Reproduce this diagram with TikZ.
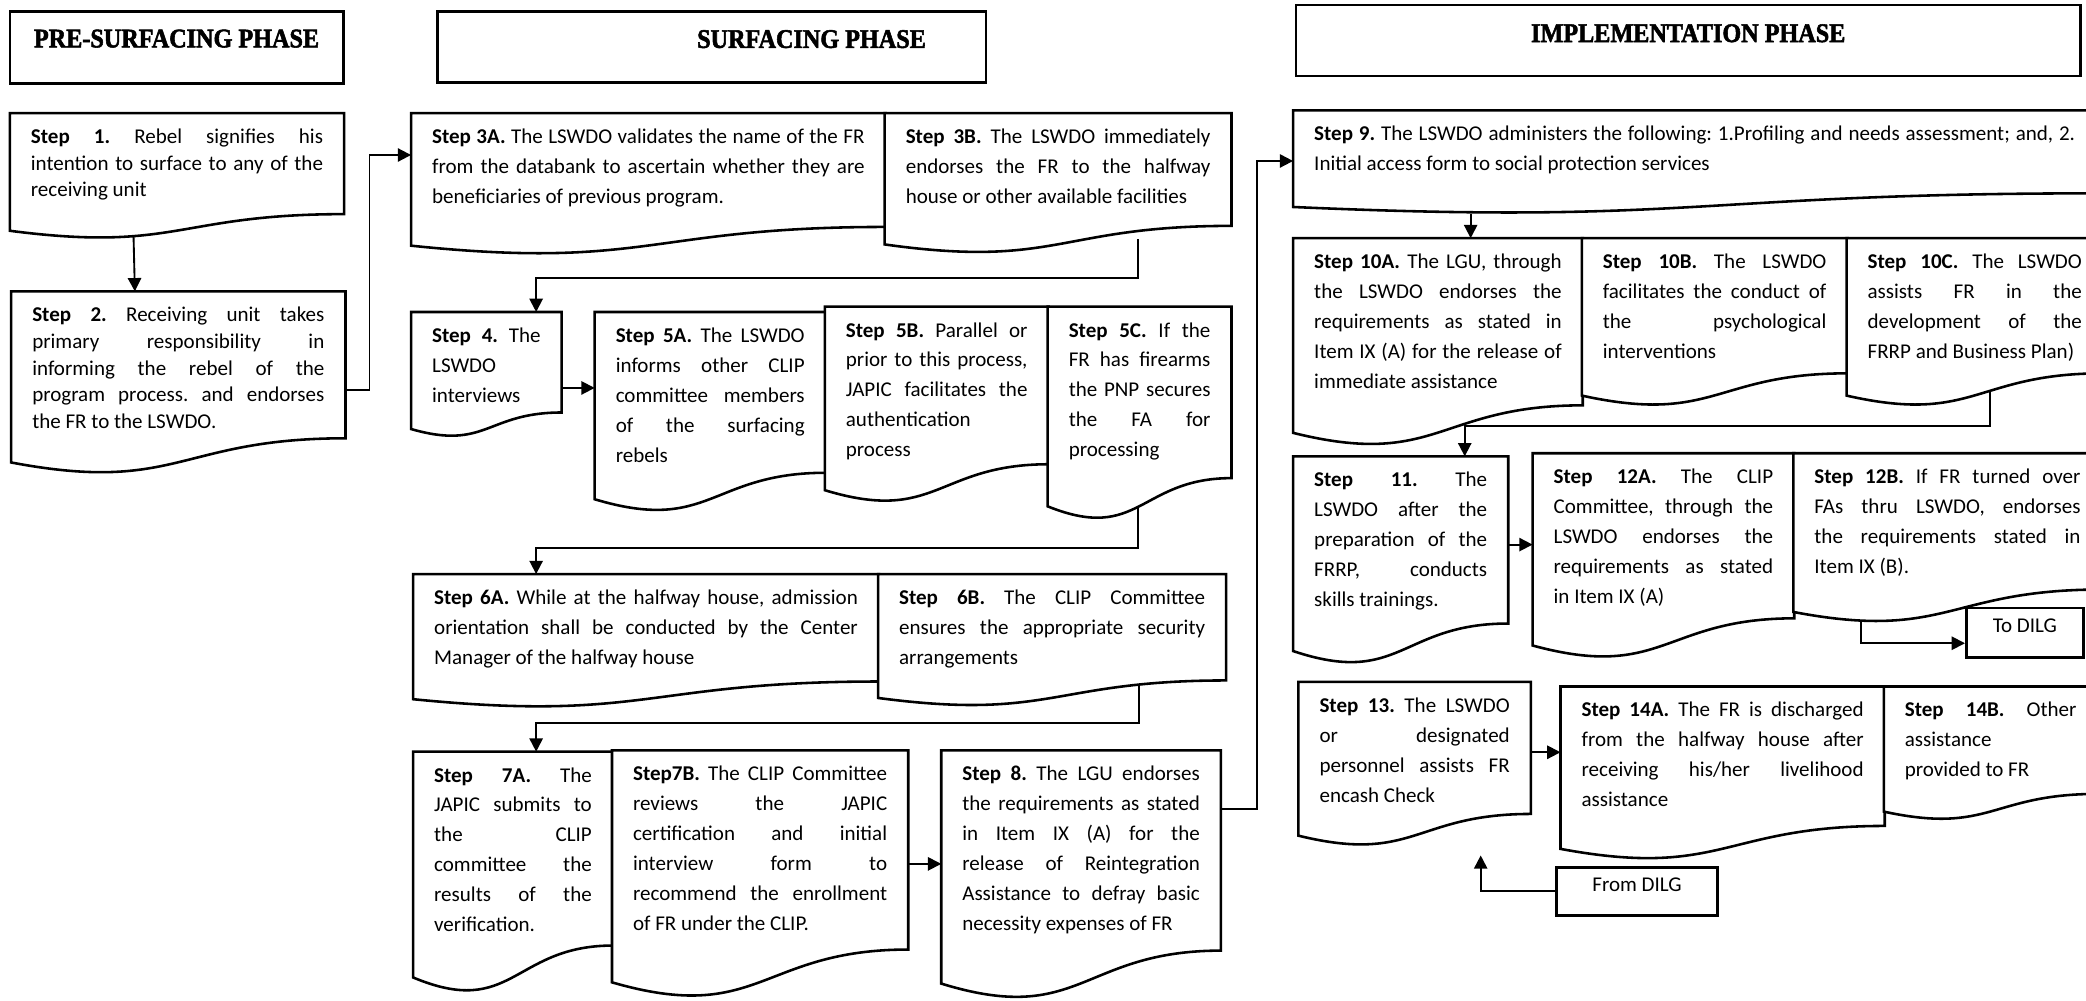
\documentclass[tikz,border=0pt]{standalone}
\usepackage{fontspec}
\setmainfont{Carlito}
\newfontfamily\phasefont{Liberation Serif}[FakeStretch=0.9, BoldFeatures={FakeBold=2}]
\usetikzlibrary{arrows.meta, calc, backgrounds, fit}
\definecolor{linecol}{RGB}{0,0,0}
\definecolor{boxfill}{RGB}{255,255,255}
\newcommand{\steptext}{\fontsize{9}{12.8}\selectfont\frenchspacing
  \hyphenpenalty=10000 \tolerance=10000 \hbadness=10000 }

\begin{document}
\begin{tikzpicture}[
    x=0.02cm, y=-0.02cm,
    arr/.style={-{Triangle[length=0.2cm, width=0.2cm]}, line width=0.8pt, draw=linecol},
    phasebox/.style={draw=linecol, line width=1.1pt, inner sep=0pt},
    phasetext/.style={font=\phasefont\bfseries\fontsize{11.5}{13}\selectfont},
    stepbox/.style 2 args={anchor=north west, inner xsep=0.31cm, inner ysep=0pt,
                  text width={#1*0.02cm-0.62cm}, text height=0.45cm,
                  text depth={#2*0.02cm-0.45cm}, align=justify, font=\steptext},
    pre/.style={font=\steptext\fontsize{9}{11.4}\selectfont},
    docline/.style={draw=linecol, fill=boxfill, line width=1.1pt},
    tagbox/.style={draw=linecol, line width=1.1pt, inner sep=0pt, font=\steptext},
]

\path[use as bounding box] (0,0) rectangle (1568,752);

% ════════════════════════════════════════════════════════
% 0. PHASE HEADERS
% ════════════════════════════════════════════════════════
\node[phasebox, fit={(7.4,8.8) (258,62.6)}] (hpre) {};
\node[phasetext] (tpre) at (132.7,29) {PRE-SURFACING PHASE};

\node[phasebox, fit={(329,8.8) (741,62)}] (hsurf) {};
\node[phasetext] (tsurf) at (610,29.4) {SURFACING PHASE};

\node[phasebox, fit={(974,3.8) (1564,57)}] (himpl) {};
\node[phasetext] (timpl) at (1269,25) {IMPLEMENTATION PHASE};

% ════════════════════════════════════════════════════════
% 1. PRE-SURFACING STEPS
% ════════════════════════════════════════════════════════
\node[stepbox={250.6}{94}, pre] (s1) at (7.4,85)
    {\textbf{Step 1.} Rebel signifies his\linebreak
     intention to surface to any of the\linebreak receiving unit};
\node[stepbox={250.6}{137}, pre] (s2) at (8.4,219)
    {\textbf{Step 2.} Receiving unit takes\linebreak
     primary responsibility in\linebreak
     informing the rebel of the\linebreak
     program process. and endorses\linebreak the FR to the LSWDO.};

% ════════════════════════════════════════════════════════
% 2. SURFACING STEPS
% ════════════════════════════════════════════════════════
\node[stepbox={356}{106}] (s3a) at (309,85)
    {\textbf{Step 3A.} The LSWDO validates the name of the FR\linebreak
     from the databank to ascertain whether they are\linebreak
     beneficiaries of previous program.};
\node[stepbox={260}{105}] (s3b) at (665,85)
    {\textbf{Step 3B.} The LSWDO immediately\linebreak
     endorses the FR to the halfway\linebreak
     house or other available facilities};

\node[stepbox={112.5}{93.5}] (s4) at (309,234.5)
    {\textbf{Step 4.} The\linebreak LSWDO\newline interviews};
\node[stepbox={173}{150}] (s5a) at (447,234.5)
    {\textbf{Step 5A.} The LSWDO\linebreak informs other CLIP\linebreak
     committee members\linebreak of the surfacing\linebreak rebels};
\node[stepbox={167.5}{147}] (s5b) at (620,230.5)
    {\textbf{Step 5B.} Parallel or\linebreak prior to this process,\linebreak
     JAPIC facilitates the\linebreak authentication\newline process};
\node[stepbox={137.5}{160}] (s5c) at (787.5,230.5)
    {\textbf{Step 5C.} If the\linebreak FR has firearms\linebreak
     the PNP secures\linebreak the FA for\linebreak processing};

\node[stepbox={349.5}{100}] (s6a) at (310.5,431.5)
    {\textbf{Step 6A.} While at the halfway house, admission\linebreak
     orientation shall be conducted by the Center\linebreak
     Manager of the halfway house};
\node[stepbox={261}{99}] (s6b) at (660,431.5)
    {\textbf{Step 6B.} The CLIP Committee\linebreak
     ensures the appropriate security\linebreak arrangements};

\node[stepbox={149.5}{181}] (s7a) at (310.5,565)
    {\textbf{Step 7A.} The\linebreak JAPIC submits to\linebreak the CLIP\linebreak
     committee the\linebreak results of the\linebreak verification.};
\node[stepbox={222}{186}] (s7b) at (460,564)
    {\textbf{Step7B.} The CLIP Committee\linebreak reviews the JAPIC\linebreak
     certification and initial\linebreak interview form to\linebreak
     recommend the enrollment\linebreak of FR under the CLIP.};
\node[stepbox={209.5}{187}] (s8) at (707.5,564)
    {\textbf{Step 8.} The LGU endorses\linebreak the requirements as stated\linebreak
     in Item IX (A) for the\linebreak release of Reintegration\linebreak
     Assistance to defray basic\linebreak necessity expenses of FR};

% ════════════════════════════════════════════════════════
% 3. IMPLEMENTATION STEPS
% ════════════════════════════════════════════════════════
\node[stepbox={603}{77}] (s9) at (972,83)
    {\textbf{Step 9.} The LSWDO administers the following: 1.Profiling and
     needs assessment; and, 2.\linebreak
     Initial access form to social protection services};

\node[stepbox={217}{156}] (s10a) at (972,179)
    {\textbf{Step 10A.} The LGU, through\linebreak the LSWDO endorses the\linebreak
     requirements as stated in\linebreak Item IX (A) for the release of\linebreak
     immediate assistance};
\node[stepbox={199}{126}] (s10b) at (1189,179)
    {\textbf{Step 10B.} The LSWDO\linebreak facilitates the conduct of\linebreak
     the psychological\linebreak interventions};
\node[stepbox={192}{126}] (s10c) at (1388,179)
    {\textbf{Step 10C.} The LSWDO\linebreak assists FR in the\linebreak
     development of the\linebreak FRRP and Business Plan)};

\node[stepbox={161}{156}] (s11) at (972,343)
    {\textbf{Step 11.} The\linebreak LSWDO after the\linebreak
     preparation of the\linebreak FRRP, conducts\linebreak skills trainings.};
\node[stepbox={196}{154}] (s12a) at (1152,340.7)
    {\textbf{Step 12A.} The CLIP\linebreak Committee, through the\linebreak
     LSWDO endorses the\linebreak requirements as stated\linebreak in Item IX (A)};
\node[stepbox={231}{127}] (s12b) at (1348,340.7)
    {\textbf{Step 12B.} If FR turned over\linebreak FAs thru LSWDO, endorses\linebreak
     the requirements stated in\linebreak Item IX (B).};
\node[tagbox, fit={(1478,457) (1566,494)}] (todilg) {To DILG};

\node[stepbox={174}{123}] (s13) at (976,512.6)
    {\textbf{Step 13.} The LSWDO\linebreak or designated\linebreak
     personnel assists FR\linebreak encash Check};
\node[stepbox={243}{130}] (s14a) at (1173,516)
    {\textbf{Step 14A.} The FR is discharged\linebreak
     from the halfway house after\linebreak
     receiving his/her livelihood\linebreak assistance};
\node[stepbox={160}{100}] (s14b) at (1416,516)
    {\textbf{Step 14B.} Other\linebreak assistance\newline provided to FR};
\node[tagbox, fit={(1170,652) (1291,688)}] (fromdilg) {From DILG};

% ════════════════════════════════════════════════════════
% 4. DOCUMENT OUTLINES (wavy bottoms, behind the text)
% ════════════════════════════════════════════════════════
\begin{scope}[on background layer]
\fill[white] (0,0) rectangle (1568,752);
\foreach \n in {s1,s2,s3a,s3b,s4,s5a,s5b,s5c,s6a,s6b,s7a,s7b,s8,
                s9,s10a,s10b,s10c,s11,s12a,s12b,s13,s14a,s14b}{
    \draw[docline] (\n.north west) -- (\n.north east)
        -- ($(\n.south east)!0.198!(\n.north east)$)
        .. controls ($(\n.south)!0.198!(\n.north)$) and ($(\n.south)!-0.107!(\n.north)$) ..
        ($(\n.south west)!0.066!(\n.north west)$) -- cycle;
}
\end{scope}

% ════════════════════════════════════════════════════════
% 5. CONNECTORS
% ════════════════════════════════════════════════════════
\draw[arr] ($(s1.south west)!0.37!(s1.south east)+(0,-2)$)
    -- ($(s2.north west)!0.37!(s2.north east)$);
\draw[arr] ($(s2.east)+(0,5)$) -- ++(18,0) |- ($(s3a.north west)+(0,31.5)$);

\draw[arr] ($(s3b.south west)!0.73!(s3b.south east)+(0,-11)$)
    -- ++(0,29) -| ($(s4.north west)+(94,0)$);
\draw[arr] ($(s4.east)+(0,10)$) coordinate (a4) -- (a4 -| s5a.west);
\draw[arr] ($(s5c.south west)!0.49!(s5c.south east)+(0,-10)$)
    -- ++(0,31) -| ($(s6a.north west)+(92.5,0)$);
\draw[arr] ($(s6b.south west)!0.75!(s6b.south east)+(0,-16)$)
    -- ++(0,28) -| ($(s7a.north west)+(92.5,0)$);
\draw[arr] ($(s7b.east)+(0,-8)$) coordinate (a7) -- (a7 -| s8.west);
\draw[arr] ($(s8.east)+(0,-50)$) -- ++(27,0) |- ($(s9.north west)+(0,38)$);

\coordinate (t10) at ($(s10a.north west)!0.613!(s10a.north east)$);
\draw[arr] (t10 |- s9.south) -- (t10);
\draw[arr] ($(s10c.south west)!0.56!(s10c.south east)+(0,-11)$)
    -- ++(0,25.5) -| ($(s11.north west)+(129,0)$);
\draw[arr] ($(s11.east)+(0,-12)$) coordinate (a11) -- (a11 -| s12a.west);
\draw[arr] ($(s12b.south west)!0.22!(s12b.south east)+(0,-2)$)
    |- ($(todilg.west)+(0,8)$);
\draw[arr] ($(s13.east)+(0,-9)$) coordinate (a13) -- (a13 -| s14a.west);
\coordinate (up13) at (1113,643);
\draw[arr] (fromdilg.west) -| (up13);

\end{tikzpicture}
\end{document}
